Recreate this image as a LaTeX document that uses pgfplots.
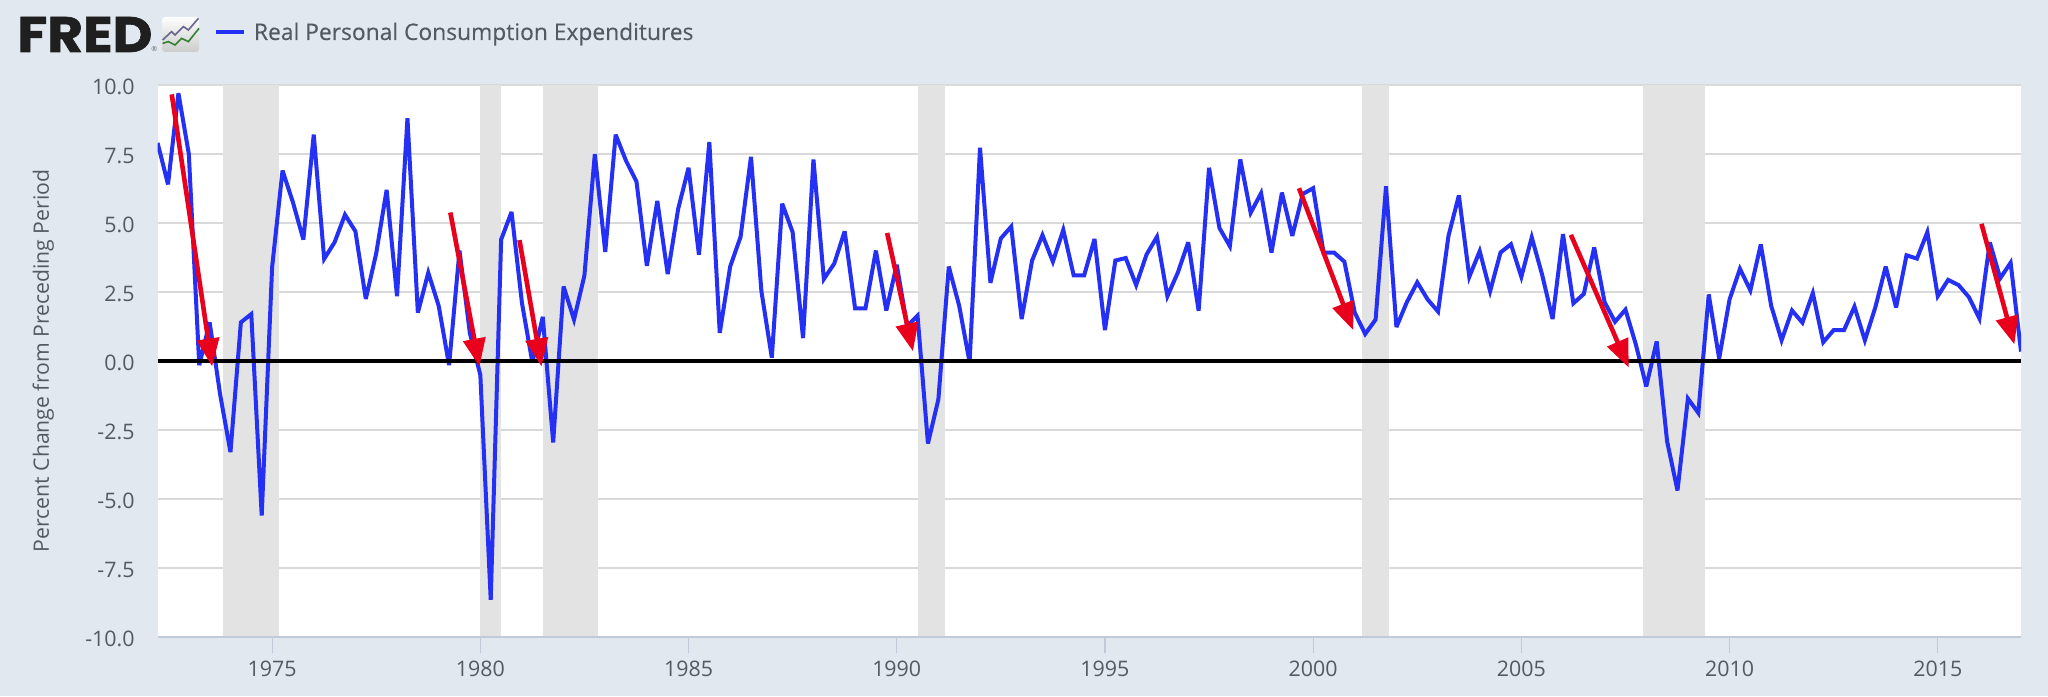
\documentclass[border=0pt]{standalone}
\usepackage{pgfplots}
\pgfplotsset{compat=1.18}
\usepackage{fontspec}
\setmainfont{Open Sans}
\newfontfamily\logofont[BoldFeatures={FakeBold=1.2}]{Poppins}
\newfontfamily\legfont[FakeBold=0.25]{Open Sans}
\usetikzlibrary{arrows.meta}
\definecolor{bgc}{HTML}{E1E8F0}
\definecolor{gridc}{HTML}{D9D9D9}
\definecolor{axisc}{HTML}{C0CAD8}
\definecolor{bandc}{HTML}{E3E3E3}
\definecolor{linec}{HTML}{2530F5}
\definecolor{arrowc}{HTML}{E8001C}
\definecolor{textc}{HTML}{555A60}
\pgfplotstableread{
x y
1972.25 7.9
1972.50 6.4
1972.75 9.7
1973.00 7.5
1973.25 -0.15
1973.50 1.4
1973.75 -1.2
1974.00 -3.3
1974.25 1.4
1974.50 1.7
1974.75 -5.6
1975.00 3.4
1975.25 6.9
1975.50 5.75
1975.75 4.4
1976.00 8.2
1976.25 3.7
1976.50 4.3
1976.75 5.3
1977.00 4.7
1977.25 2.25
1977.50 3.9
1977.75 6.2
1978.00 2.35
1978.25 8.8
1978.50 1.75
1978.75 3.2
1979.00 2.0
1979.25 -0.15
1979.50 4.0
1979.75 1.0
1980.00 -0.5
1980.25 -8.65
1980.50 4.4
1980.75 5.4
1981.00 2.1
1981.25 -0.05
1981.50 1.6
1981.75 -2.95
1982.00 2.7
1982.25 1.5
1982.50 3.1
1982.75 7.5
1983.00 3.95
1983.25 8.2
1983.50 7.25
1983.75 6.5
1984.00 3.45
1984.25 5.8
1984.50 3.15
1984.75 5.5
1985.00 7.0
1985.25 3.85
1985.50 7.93
1985.75 1.02
1986.00 3.42
1986.25 4.5
1986.50 7.4
1986.75 2.53
1987.00 0.12
1987.25 5.7
1987.50 4.67
1987.75 0.83
1988.00 7.3
1988.25 2.97
1988.50 3.53
1988.75 4.7
1989.00 1.91
1989.25 1.91
1989.50 4.0
1989.75 1.83
1990.00 3.49
1990.25 1.27
1990.50 1.64
1990.75 -2.99
1991.00 -1.39
1991.25 3.42
1991.50 2.0
1991.75 -0.05
1992.00 7.73
1992.25 2.83
1992.50 4.44
1992.75 4.87
1993.00 1.52
1993.25 3.64
1993.50 4.56
1993.75 3.6
1994.00 4.75
1994.25 3.1
1994.50 3.1
1994.75 4.42
1995.00 1.12
1995.25 3.64
1995.50 3.73
1995.75 2.75
1996.00 3.86
1996.25 4.5
1996.50 2.35
1996.75 3.2
1997.00 4.3
1997.25 1.82
1997.50 7.0
1997.75 4.82
1998.00 4.16
1998.25 7.3
1998.50 5.37
1998.75 6.08
1999.00 3.93
1999.25 6.1
1999.50 4.53
1999.75 6.05
2000.00 6.26
2000.25 3.93
2000.50 3.93
2000.75 3.6
2001.00 1.75
2001.25 0.98
2001.50 1.5
2001.75 6.33
2002.00 1.23
2002.25 2.13
2002.50 2.85
2002.75 2.23
2003.00 1.79
2003.25 4.53
2003.50 6.0
2003.75 3.05
2004.00 3.98
2004.25 2.53
2004.50 3.93
2004.75 4.23
2005.00 3.05
2005.25 4.48
2005.50 3.12
2005.75 1.52
2006.00 4.6
2006.25 2.09
2006.50 2.43
2006.75 4.11
2007.00 2.13
2007.25 1.42
2007.50 1.86
2007.75 0.6
2008.00 -0.92
2008.25 0.71
2008.50 -2.91
2008.75 -4.69
2009.00 -1.36
2009.25 -1.88
2009.50 2.41
2009.75 0.09
2010.00 2.23
2010.25 3.34
2010.50 2.56
2010.75 4.22
2011.00 2.0
2011.25 0.75
2011.50 1.83
2011.75 1.39
2012.00 2.46
2012.25 0.68
2012.50 1.12
2012.75 1.12
2013.00 1.97
2013.25 0.75
2013.50 1.94
2013.75 3.42
2014.00 1.94
2014.25 3.83
2014.50 3.71
2014.75 4.67
2015.00 2.35
2015.25 2.94
2015.50 2.75
2015.75 2.31
2016.00 1.54
2016.25 4.3
2016.50 3.0
2016.75 3.56
2017.00 0.34
}\pce
\begin{document}
\begin{tikzpicture}[x=1pt,y=1pt]
\fill[bgc] (0,0) rectangle (1024,348);
% logo
\node[anchor=base west,inner sep=0pt,text=black!88] at (8.5,322) {\resizebox{67.5pt}{17.5pt}{\logofont\bfseries FRED}};
\node[anchor=base west,inner sep=0pt,text=black!60] at (75.5,322) {\fontsize{3.5}{4}\selectfont\textregistered};
\shade[top color=white!95!bgc,bottom color=black!20,rounded corners=1.5pt] (81,322) rectangle (99.5,339.5);
\draw[black!25!blue!20!gray,line width=.8pt] (81.3,328) -- (85.8,332.2) -- (87.5,330.5) -- (91.7,334.7) -- (94.2,333) -- (99.2,338.8);
\draw[green!50!black!60!gray,line width=.8pt] (81.3,326.3) -- (84.2,327.2) -- (87.5,325.5) -- (90.8,328.8) -- (94.2,327.2) -- (99.5,333.8);
% legend
\draw[linec,line width=2pt] (108,331.85) -- (122,331.85);
\node[anchor=base west,inner sep=0pt,text=textc] at (126.8,328) {\legfont\fontsize{11.4}{12}\selectfont Real Personal Consumption Expenditures};
\begin{axis}[
  at={(78.8pt,29.5pt)},anchor=south west,
  scale only axis,width=931.7pt,height=276pt,
  xmin=1972.25,xmax=2017,ymin=-10,ymax=10,
  axis background/.style={fill=white},
  axis line style={draw=none},
  xtick pos=bottom,ytick pos=left,
  xtick={1975,1980,...,2015},
  ytick={-10,-7.5,...,10},
  ymajorgrids,
  grid style={gridc,line width=.8pt},
  xtick style={axisc,line width=.6pt},
  major tick length=8pt,
  ytick style={draw=none},
  tick align=outside,
  /pgf/number format/assume math mode=true,
  x tick label style={/pgf/number format/1000 sep={},text=textc,font=\fontsize{10.7}{12}\selectfont,yshift=-0.3pt},
  y tick label style={/pgf/number format/fixed,/pgf/number format/fixed zerofill,/pgf/number format/precision=1,text=textc,font=\fontsize{10.7}{12}\selectfont,yshift=-1pt},
  ylabel={Percent Change from Preceding Period},
  ylabel style={text=textc,font=\fontsize{10.6}{12}\selectfont,at={(axis description cs:0,0.5)},yshift=48.3pt},
  arr/.style={arrowc,line width=2.3pt,mark=none,solid,-{Triangle[length=14pt,width=11pt]}},
]
\addplot[draw=none,fill=bandc,forget plot] coordinates {(1973.83,-10)(1973.83,10)(1975.17,10)(1975.17,-10)} -- cycle;
\addplot[draw=none,fill=bandc,forget plot] coordinates {(1980.0,-10)(1980.0,10)(1980.5,10)(1980.5,-10)} -- cycle;
\addplot[draw=none,fill=bandc,forget plot] coordinates {(1981.5,-10)(1981.5,10)(1982.83,10)(1982.83,-10)} -- cycle;
\addplot[draw=none,fill=bandc,forget plot] coordinates {(1990.5,-10)(1990.5,10)(1991.17,10)(1991.17,-10)} -- cycle;
\addplot[draw=none,fill=bandc,forget plot] coordinates {(2001.17,-10)(2001.17,10)(2001.83,10)(2001.83,-10)} -- cycle;
\addplot[draw=none,fill=bandc,forget plot] coordinates {(2007.92,-10)(2007.92,10)(2009.42,10)(2009.42,-10)} -- cycle;
\addplot[linec,line width=2pt,line join=miter,miter limit=4,mark=none] table[x=x,y=y] {\pce};
\addplot[black,line width=1.6pt,mark=none] coordinates {(1972.25,0)(2017,0)};
\addplot[axisc,line width=1pt,mark=none] coordinates {(1972.25,-10)(2017,-10)};
\addplot[arr] coordinates {(1972.59,9.66)(1973.56,-0.2)};
\addplot[arr] coordinates {(1979.28,5.38)(1979.98,-0.2)};
\addplot[arr] coordinates {(1980.94,4.38)(1981.47,-0.2)};
\addplot[arr] coordinates {(1989.77,4.64)(1990.39,0.35)};
\addplot[arr] coordinates {(1999.66,6.26)(2000.96,1.12)};
\addplot[arr] coordinates {(2006.19,4.57)(2007.58,-0.24)};
\addplot[arr] coordinates {(2016.05,4.97)(2016.84,0.6)};
\end{axis}
\end{tikzpicture}
\end{document}
